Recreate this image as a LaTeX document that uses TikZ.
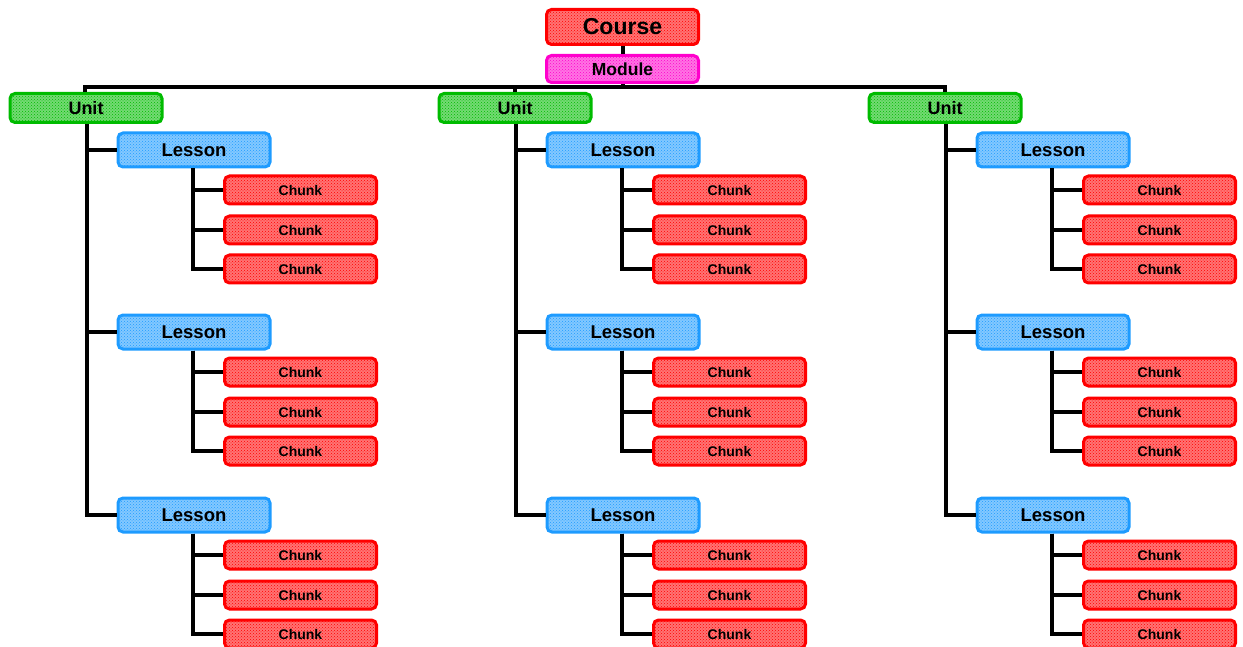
\documentclass[tikz,border=0pt]{standalone}
\usepackage{fontspec}
\setmainfont{Liberation Sans}
\usetikzlibrary{patterns}
\definecolor{cred}{HTML}{FF0000}
\definecolor{cmag}{HTML}{FF00CC}
\definecolor{cgreen}{HTML}{00BB00}
\definecolor{cblue}{HTML}{1E9BFF}
\tikzset{
  box/.style={draw=#1, line width=3pt, rounded corners=5pt, inner sep=0pt,
    minimum width=152pt,
    preaction={fill=#1!55!white}, pattern=crosshatch dots, pattern color=#1},
  coursebox/.style={box=cred, minimum height=35pt, font=\bfseries\fontsize{23}{23}\selectfont},
  modbox/.style={box=cmag, minimum height=27pt, font=\bfseries\fontsize{17.5}{17.5}\selectfont},
  unitbox/.style={box=cgreen, minimum height=29pt, font=\bfseries\fontsize{18}{18}\selectfont},
  lessonbox/.style={box=cblue, minimum height=34pt, font=\bfseries\fontsize{18.5}{18.5}\selectfont},
  chunkbox/.style={box=cred, minimum height=28pt, font=\bfseries\fontsize{14}{14}\selectfont},
  conn/.style={draw=black, line width=4pt}
}
\begin{document}
\begin{tikzpicture}[x=1pt,y=-1pt]
\useasboundingbox (0,0) rectangle (1243,647);
\node[coursebox] (course) at (622.5,27) {Course};
\node[modbox] (module) at (622.5,69) {Module};
\coordinate (bar) at (622.5,87);
\foreach \c/\dx in {1/0,2/429,3/859}{
  \node[unitbox] (u\c) at (86+\dx,108) {Unit};
  \foreach \l/\ly in {1/150,2/332,3/515}{
    \node[lessonbox] (l\c\l) at (194+\dx,\ly) {Lesson};
    \draw[conn] ([xshift=1pt]u\c.south) |- (l\c\l.west);
    \foreach \k/\ky in {1/40,2/80,3/119}{
      \node[chunkbox] (ch\c\l\k) at (300.5+\dx,\ly+\ky) {Chunk};
      \draw[conn] ([xshift=-1pt]l\c\l.south) |- (ch\c\l\k.west);
    }
  }
}
\draw[conn] (course) -- (module);
\draw[conn] (module) -- (bar);
\draw[conn] ([xshift=-1pt]u1.north) |- (bar) -| (u3.north);
\draw[conn] (u2.north) -- (u2.north |- bar);
\end{tikzpicture}
\end{document}
